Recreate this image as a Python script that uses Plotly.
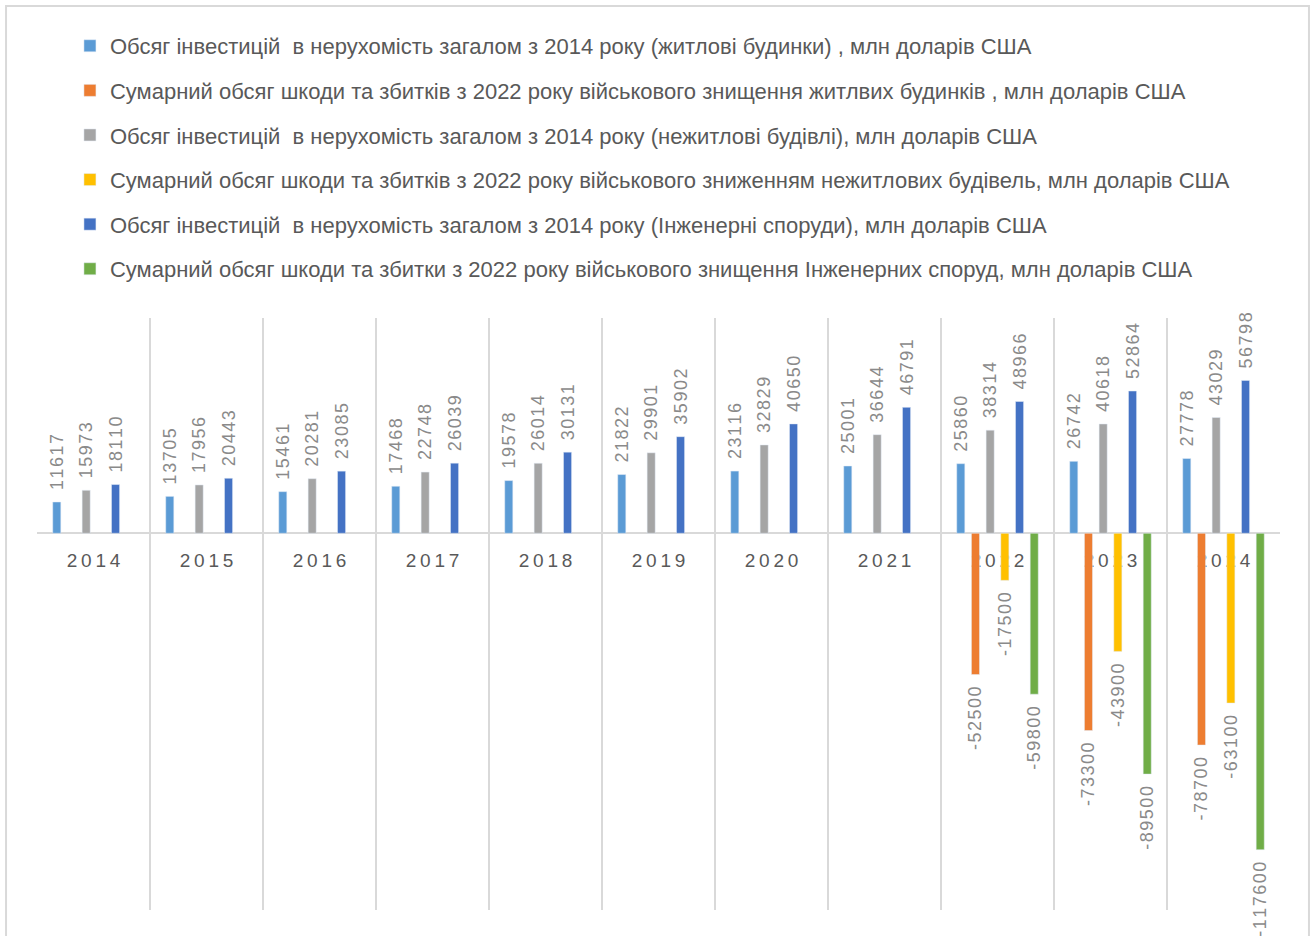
import plotly.graph_objects as go

years = ["2014", "2015", "2016", "2017", "2018", "2019", "2020", "2021", "2022", "2023", "2024"]

res_invest = [11617, 13705, 15461, 17468, 19578, 21822, 23116, 25001, 25860, 26742, 27778]
res_damage = [None, None, None, None, None, None, None, None, -52500, -73300, -78700]
nonres_invest = [15973, 17956, 20281, 22748, 26014, 29901, 32829, 36644, 38314, 40618, 43029]
nonres_damage = [None, None, None, None, None, None, None, None, -17500, -43900, -63100]
eng_invest = [18110, 20443, 23085, 26039, 30131, 35902, 40650, 46791, 48966, 52864, 56798]
eng_damage = [None, None, None, None, None, None, None, None, -59800, -89500, -117600]

names = [
    "Обсяг інвестицій  в нерухомість загалом з 2014 року (житлові будинки) , млн доларів США",
    "Сумарний обсяг шкоди та збитків з 2022 року військового знищення житлвих будинків , млн доларів США",
    "Обсяг інвестицій  в нерухомість загалом з 2014 року (нежитлові будівлі), млн доларів США",
    "Сумарний обсяг шкоди та збитків з 2022 року військового зниженням нежитлових будівель, млн доларів США",
    "Обсяг інвестицій  в нерухомість загалом з 2014 року (Інженерні споруди), млн доларів США",
    "Сумарний обсяг шкоди та збитки з 2022 року військового знищення Інженерних споруд, млн доларів США",
]
series = [res_invest, res_damage, nonres_invest, nonres_damage, eng_invest, eng_damage]
colors = ["#5B9BD5", "#ED7D31", "#A5A5A5", "#FFC000", "#4472C4", "#70AD47"]

Y_MIN, Y_MAX = -140000, 80000
FONT = "Liberation Sans, Arial, sans-serif"
HAIR = "\u200a"
PAD = "\u2002"


def label(v):
    if v is None:
        return ""
    s = HAIR.join(str(v))
    return PAD + s if v >= 0 else s + PAD


fig = go.Figure()
for i, (name, vals, col) in enumerate(zip(names, series, colors)):
    fig.add_trace(go.Bar(
        x=years, y=vals, name=name, marker_color=col,
        text=[label(v) for v in vals], textposition="outside", textangle=-90,
        textfont=dict(family=FONT, size=18, color="#8a8a8a"),
        constraintext="none", cliponaxis=False,
        legendgroup=f"g{i}",
    ))

zero_pos = (0 - Y_MIN) / (Y_MAX - Y_MIN)

fig.update_layout(
    width=1316, height=936,
    margin=dict(l=37, r=36, t=318, b=26),
    paper_bgcolor="white", plot_bgcolor="white",
    barmode="group", bargap=0.22, bargroupgap=0.45,
    font=dict(family=FONT, color="#595959"),
    showlegend=True,
    legend=dict(
        x=0.0265, y=1.495, xanchor="left", yanchor="top",
        font=dict(family=FONT, size=22, color="#595959"),
        tracegroupgap=13, itemwidth=30, traceorder="grouped",
        bgcolor="rgba(0,0,0,0)",
    ),
    xaxis=dict(
        type="category", tickson="boundaries",
        showgrid=True, gridcolor="#d9d9d9", gridwidth=2,
        showline=True, linecolor="#d9d9d9", linewidth=2,
        anchor="free", position=zero_pos,
        tickvals=years, ticktext=["\u2009".join(y) for y in years],
        tickfont=dict(family=FONT, size=19, color="#595959"),
        ticks="", ticklabelstandoff=10,
        layer="below traces",
    ),
    yaxis=dict(
        range=[Y_MIN, Y_MAX], showgrid=False, zeroline=False,
        showticklabels=False, ticks="",
    ),
    shapes=[dict(
        type="rect", xref="paper", yref="paper",
        x0=-0.0249, x1=1.0233, y0=-0.2, y1=1.527,
        line=dict(color="#d9d9d9", width=2), fillcolor="rgba(0,0,0,0)", layer="below",
    )],
)

fig.write_html("out.html")
